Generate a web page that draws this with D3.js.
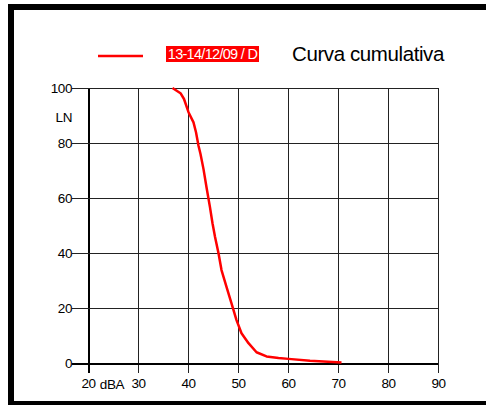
<!DOCTYPE html>
<html>
<head>
<meta charset="utf-8">
<script src="https://cdn.jsdelivr.net/npm/d3@7"></script>
<style>
  html, body { margin: 0; padding: 0; background: #fff; }
  svg { display: block; font-family: "Liberation Sans", Arial, sans-serif; }
</style>
</head>
<body>
<svg id="chart" width="486" height="405"></svg>
<script>
// Data
const levelsDBA = [36.9, 38.5, 39.2, 40.1, 41.1, 41.6, 42.1, 42.5, 43.1, 43.7, 44.4, 44.9, 45.4, 46.1, 46.7, 47.7, 48.7, 49.7, 50.7, 52.1, 53.7, 55.7, 58.1, 60.1, 64.4, 70.7];
const lnPercent = [100, 98.1, 96, 91.2, 87.5, 83.9, 79, 76, 70.5, 63.9, 56.6, 50.8, 45.9, 39.9, 33.8, 27.7, 21.7, 15.6, 10.8, 7.2, 3.9, 2.4, 1.8, 1.5, 0.8, 0.2];
const xTicks = [20, 30, 40, 50, 60, 70, 80, 90];
const yTicks = [0, 20, 40, 60, 80, 100];
const seriesName = "13-14/12/09 / D";
const chartTitle = "Curva cumulativa";
const xUnit = "dBA";
const yUnit = "LN";

const svg = d3.select("#chart");

// Frame (top, left, bottom bands)
svg.append("rect").attr("x", 8).attr("y", 4).attr("width", 478).attr("height", 6).attr("fill", "#000");
svg.append("rect").attr("x", 8).attr("y", 4).attr("width", 6).attr("height", 401).attr("fill", "#000");
svg.append("rect").attr("x", 8).attr("y", 401).attr("width", 478).attr("height", 4).attr("fill", "#000");

const x = d3.scaleLinear().domain([20, 90]).range([88, 438]);
const y = d3.scaleLinear().domain([0, 100]).range([363, 88]);

const grid = svg.append("g").attr("shape-rendering", "crispEdges");
// vertical grid lines + downward ticks
grid.selectAll("line.v").data(xTicks).join("line")
  .attr("class", "v")
  .attr("x1", d => Math.round(x(d)) + 0.5).attr("x2", d => Math.round(x(d)) + 0.5)
  .attr("y1", y(100)).attr("y2", y(0) + 10)
  .attr("stroke", d => d === 20 ? "#000" : "#222").attr("stroke-width", d => d === 20 ? 2 : 1);
// horizontal grid lines + leftward ticks
grid.selectAll("line.h").data(yTicks).join("line")
  .attr("class", "h")
  .attr("x1", x(20) - 16).attr("x2", x(90))
  .attr("y1", d => Math.round(y(d)) + 0.5).attr("y2", d => Math.round(y(d)) + 0.5)
  .attr("stroke", d => d === 0 ? "#000" : "#222").attr("stroke-width", d => d === 0 ? 2 : 1);

// Axes labels via d3 axes
const yAxis = d3.axisLeft(y).tickValues(yTicks).tickSize(0).tickPadding(0).tickFormat(d3.format("d"));
const gy = svg.append("g").attr("transform", `translate(${x(20) - 16},0)`).call(yAxis);
gy.select(".domain").remove();
gy.selectAll("text").attr("font-size", "13.5px").attr("fill", "#000")
  .attr("font-family", "Liberation Sans, Arial, sans-serif").attr("letter-spacing", "-0.4px");

const xAxis = d3.axisBottom(x).tickValues(xTicks).tickSize(0).tickPadding(0).tickFormat(d3.format("d"));
const gx = svg.append("g").attr("transform", `translate(0,${y(0) + 15})`).call(xAxis);
gx.select(".domain").remove();
gx.selectAll("text").attr("font-size", "13.5px").attr("fill", "#000")
  .attr("font-family", "Liberation Sans, Arial, sans-serif").attr("letter-spacing", "-0.4px");

svg.append("text").attr("x", 112).attr("y", 389).attr("text-anchor", "middle")
  .attr("font-size", "13.5px").attr("letter-spacing", "-0.4px").text(xUnit);
svg.append("text").attr("x", 72).attr("y", 121.5).attr("text-anchor", "end")
  .attr("font-size", "13.5px").attr("letter-spacing", "-0.4px").text(yUnit);

// Curve
const line = d3.line().x((d, i) => x(levelsDBA[i])).y(d => y(d));
svg.append("path").datum(lnPercent)
  .attr("d", line)
  .attr("fill", "none").attr("stroke", "#ff0000").attr("stroke-width", 2.5)
  .attr("stroke-linejoin", "round");

// Legend
svg.append("line").attr("x1", 98).attr("x2", 143).attr("y1", 56).attr("y2", 56)
  .attr("stroke", "#ff0000").attr("stroke-width", 2.5);
svg.append("rect").attr("x", 166).attr("y", 46).attr("width", 93).attr("height", 16).attr("fill", "#ff0000");
svg.append("text").attr("x", 212.5).attr("y", 59).attr("text-anchor", "middle")
  .attr("font-size", "14.5px").attr("letter-spacing", "-0.7px").attr("fill", "#fff").text(seriesName);
svg.append("text").attr("x", 292).attr("y", 61).attr("font-size", "20.5px")
  .attr("letter-spacing", "-0.4px").attr("fill", "#000").text(chartTitle);
</script>
</body>
</html>
